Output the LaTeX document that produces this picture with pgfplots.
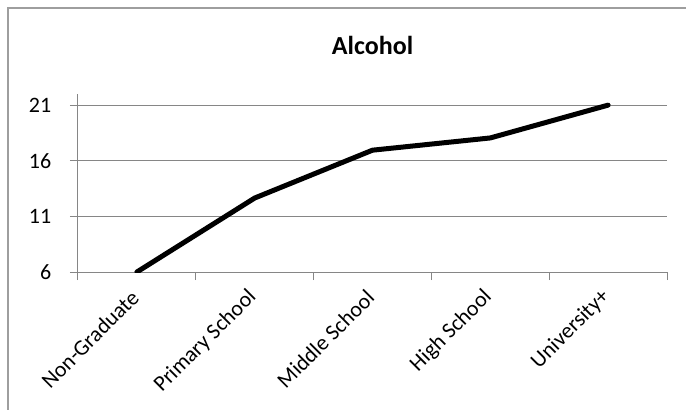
\documentclass[border=0pt]{standalone}
\usepackage{pgfplots}
\pgfplotsset{compat=1.18}
\usepackage{fontspec}
\setmainfont{Carlito}
\definecolor{gridgray}{RGB}{134,134,134}
\begin{document}
\begin{tikzpicture}[x=0.75pt,y=0.75pt]
\begin{axis}[
  name=ax, at={(0,0)}, anchor=south west,
  scale only axis, width=441.75pt, height=133.5pt,
  xmin=-0.5, xmax=4.5, ymin=6, ymax=22,
  axis x line*=bottom, axis y line*=left,
  axis line style={gridgray, line width=0.75pt, -},
  ytick={6,11,16,21},
  ymajorgrids, grid style={gridgray, line width=0.75pt},
  tick align=outside,
  major tick length=6pt,
  tick style={gridgray, line width=0.75pt},
  xtick={0,1,2,3,4},
  xticklabels={Non-Graduate, Primary School, Middle School, High School, University+},
  xtick style={draw=none},
  extra x ticks={-0.5,0.5,1.5,2.5,3.5,4.5},
  extra x tick labels={},
  extra x tick style={grid=none, xtick style={draw=gridgray}},
  xticklabel style={yshift=-8pt, xshift=1pt, rotate=45, anchor=east, font=\fontsize{16.5}{19}\selectfont},
  yticklabel style={xshift=-10.5pt, font=\fontsize{16.5}{19}\selectfont},
  /pgf/number format/assume math mode=true,
  title={Alcohol}, title style={font=\bfseries\fontsize{19.5}{23}\selectfont, anchor=base, at={(0.5,1)}, yshift=24pt},
  clip=true,
]
\addplot[black, line width=3.75pt, line join=round, line cap=round] coordinates {(0,6) (1,12.65) (2,16.95) (3,18.05) (4,21)};
\end{axis}
\pgfresetboundingbox
\path[use as bounding box] (ax.south west) ++(-78,-138) coordinate (bl) rectangle ++(686,410);
\draw[color=gridgray!80, line width=0.9pt] (bl) ++(8,0) -- ++(0,402) -- ++(678,0);
\end{tikzpicture}
\end{document}
